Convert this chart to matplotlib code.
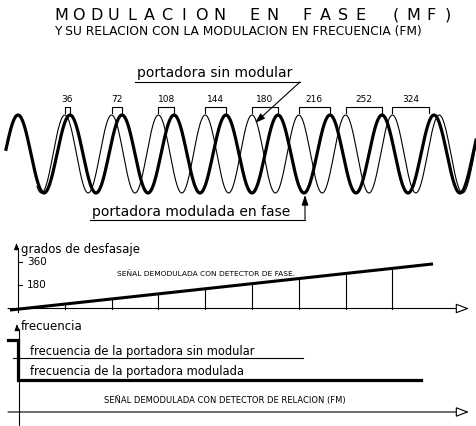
import numpy as np
import matplotlib
matplotlib.use('Agg')
import matplotlib.pyplot as plt

# texts
title = 'MODULACION EN FASE (MF)'
subtitle = 'Y SU RELACION CON LA MODULACION EN FRECUENCIA (FM)'
lbl_sin_mod = 'portadora sin modular'
lbl_mod_fase = 'portadora modulada en fase'
lbl_grados = 'grados de desfasaje'
lbl_fase = 'SEÑAL DEMODULADA CON DETECTOR DE FASE.'
lbl_freq = 'frecuencia'
lbl_f_sin = 'frecuencia de la portadora sin modular'
lbl_f_mod = 'frecuencia de la portadora modulada'
lbl_rel = 'SEÑAL DEMODULADA CON DETECTOR DE RELACION (FM)'

# phase-shift labels read above the waves (as drawn, 288 is skipped)
deg_labels = [36, 72, 108, 144, 180, 216, 252, 324]
phase_ticks = [180, 360]

# carrier (px units of the drawing)
carrier_x0 = 18.0      # first common crest
carrier_period = 46.8  # unmodulated period
phase_step = 36        # degrees of lag added each cycle
amp = 39.0

# demodulated phase line (degrees at its ends)
diag_x = [10, 433]
diag_deg = [-12, 345]

# frequency step (height above the baseline)
step_x = [8, 18, 18, 421]
step_h = [72, 72, 32, 32]
carrier_h = 54
carrier_x = [13, 303]

fig = plt.figure(figsize=(4.76, 4.26), dpi=100)
ax = fig.add_axes([0, 0, 1, 1])
ax.set_xlim(0, 476)
ax.set_ylim(426, 0)
ax.axis('off')

# --- title, spaced like the drafting font
pitch = 17.6
for i, ch in enumerate(title):
    ax.text(61 + i * pitch, 15, ch, fontsize=11.5, color='black',
            ha='center', va='center')
ax.text(238, 31.5, subtitle, fontsize=8.8, ha='center', va='center')

# --- waves
yc = 154
x_thick = np.linspace(6, 476, 1200)
x_thin = np.linspace(37, 476, 1100)
ratio = 1 - phase_step / 360
thin = yc - amp * np.cos(2 * np.pi * (x_thin - carrier_x0) / carrier_period)
thick = yc - amp * np.cos(2 * np.pi * ratio * (x_thick - carrier_x0) / carrier_period)
ax.plot(x_thin, thin, color='black', lw=0.8)
ax.plot(x_thick, thick, color='black', lw=2.3)

# brackets: crest of the unmodulated wave to crest of the modulated one
k = np.arange(1, len(deg_labels) + 1)
thin_peaks = carrier_x0 + k * carrier_period
thick_peaks = carrier_x0 + k * carrier_period / ratio
for a, b, d in zip(thin_peaks, thick_peaks, deg_labels):
    b = min(b, 429)
    ax.plot([a, a, b, b], [113, 106.5, 106.5, 113], color='black', lw=0.8)
    ax.text((a + b) / 2, 99, str(d), fontsize=6.5, ha='center', va='center')

# callouts
ax.text(137, 73, lbl_sin_mod, fontsize=10, ha='left', va='center')
ax.plot([135, 300], [82, 82], color='black', lw=0.8)
ax.annotate('', xy=(255, 123), xytext=(300, 82),
            arrowprops=dict(arrowstyle='-|>,head_length=0.6,head_width=0.2',
                            color='black', lw=0.8, shrinkA=0, shrinkB=0))
ax.text(92, 212, lbl_mod_fase, fontsize=10, ha='left', va='center')
ax.plot([90, 305], [219.5, 219.5], color='black', lw=0.8)
ax.annotate('', xy=(305, 195), xytext=(305, 219.5),
            arrowprops=dict(arrowstyle='-|>,head_length=0.6,head_width=0.2',
                            color='black', lw=0.8, shrinkA=0, shrinkB=0))

# --- phase panel
base1 = 308.5
deg_px = 46.5 / 360


def phase_y(d):
    return base1 - np.asarray(d) * deg_px


ax.plot([18, 18], [248, 312], color='black', lw=0.8)
ax.annotate('', xy=(16.5, 243), xytext=(16.5, 250),
            arrowprops=dict(arrowstyle='-|>,head_length=0.4,head_width=0.15',
                            color='black', lw=0.6, shrinkA=0, shrinkB=0))
ax.annotate('', xy=(469, base1), xytext=(8, base1),
            arrowprops=dict(arrowstyle='-|>,head_length=0.8,head_width=0.3',
                            fc='white', ec='black', lw=0.8, shrinkA=0, shrinkB=0))
for t in phase_ticks:
    ax.plot([18, 22], [phase_y(t)] * 2, color='black', lw=0.8)
    ax.text(27, phase_y(t), str(t), fontsize=7.5, ha='left', va='center')
ax.text(21, 249, lbl_grados, fontsize=8.5, ha='left', va='center')
ax.plot(diag_x, phase_y(diag_deg), color='black', lw=2.2, solid_capstyle='butt')
for xv in thin_peaks:
    top = phase_y(np.interp(xv, diag_x, diag_deg))
    ax.plot([xv, xv], [base1, top], color='black', lw=0.8)
ax.text(206, 274, lbl_fase, fontsize=5.4, ha='center', va='center')

# --- frequency panel
base2 = 412
ax.plot([19, 19], [329, 426], color='black', lw=0.8)
ax.annotate('', xy=(17, 324), xytext=(17, 331),
            arrowprops=dict(arrowstyle='-|>,head_length=0.4,head_width=0.15',
                            color='black', lw=0.6, shrinkA=0, shrinkB=0))
ax.annotate('', xy=(469, base2), xytext=(8, base2),
            arrowprops=dict(arrowstyle='-|>,head_length=0.8,head_width=0.3',
                            fc='white', ec='black', lw=0.8, shrinkA=0, shrinkB=0))
ax.text(21, 327, lbl_freq, fontsize=8.5, ha='left', va='center')
ax.plot(carrier_x, [base2 - carrier_h] * 2, color='black', lw=0.8)
ax.plot(step_x, base2 - np.array(step_h), color='black', lw=2.3,
        solid_joinstyle='miter')
ax.text(30, 352, lbl_f_sin, fontsize=8.3, ha='left', va='center')
ax.text(30, 371.5, lbl_f_mod, fontsize=8.3, ha='left', va='center')
ax.text(225, 400, lbl_rel, fontsize=6, ha='center', va='center')

fig.savefig('out.png', dpi=100)
